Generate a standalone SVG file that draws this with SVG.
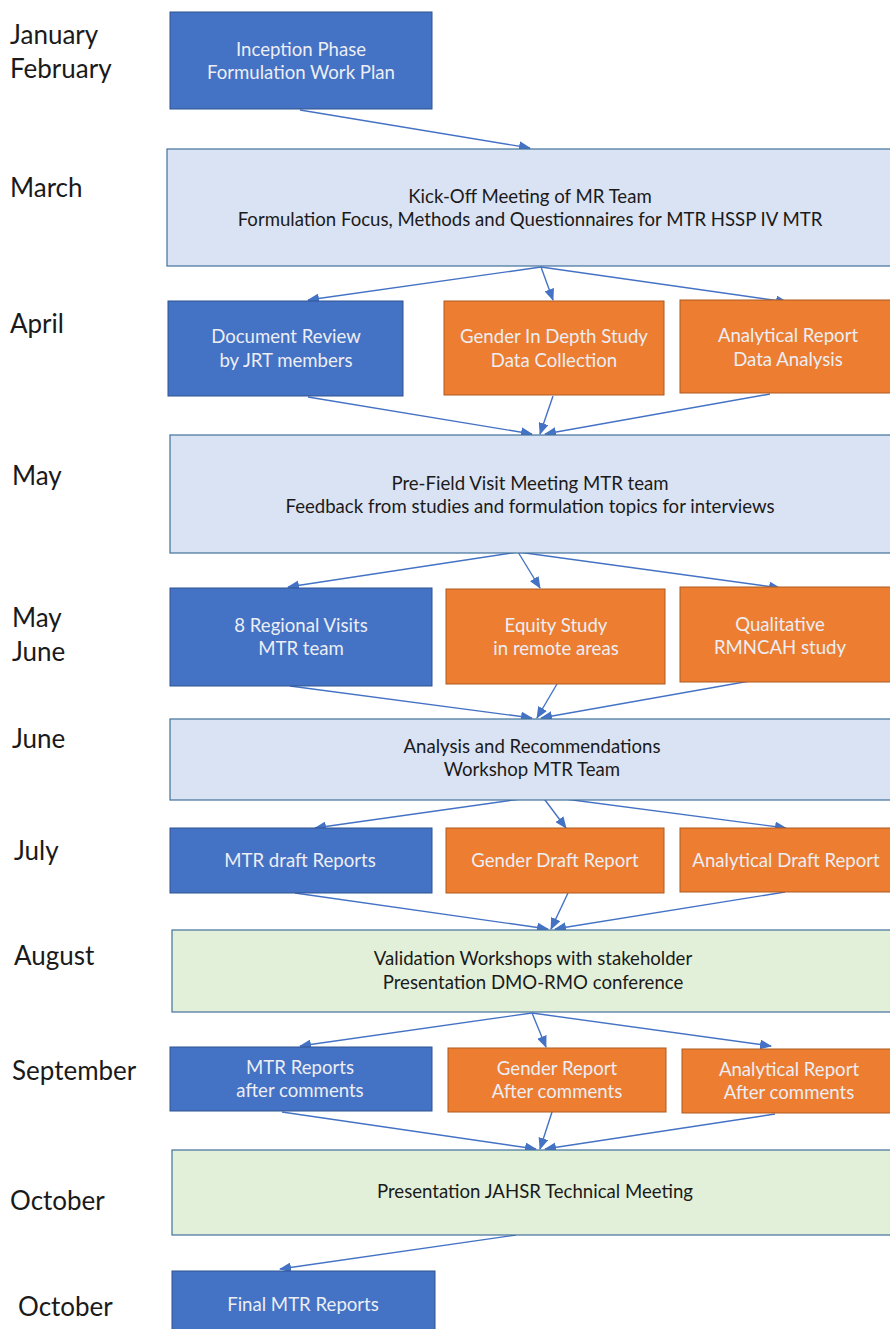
<svg xmlns="http://www.w3.org/2000/svg" width="890" height="1329" viewBox="0 0 890 1329">
<style>
.lbl{font-family:Lato,"Open Sans","Liberation Sans",sans-serif;font-size:26px;fill:#1a1a1a}
.t{font-family:Lato,"Open Sans","Liberation Sans",sans-serif;font-size:18.6px;text-anchor:middle}
.w{fill:#eceef4}
.d{fill:#1a1a1a}
.blue{fill:#4472C4;stroke:#2F528F;stroke-width:1}
.orange{fill:#ED7D31;stroke:#AE5A21;stroke-width:1}
.lb{fill:#DAE3F3;stroke:#41719C;stroke-width:1.2}
.lg{fill:#E2F0D9;stroke:#41719C;stroke-width:1.2}
.c{stroke:#4472C4;stroke-width:1.4;fill:none;marker-end:url(#ah)}
</style>
<defs>
<marker id="ah" markerWidth="12" markerHeight="10" refX="11" refY="5" orient="auto" markerUnits="userSpaceOnUse">
<path d="M0,0 L12,5 L0,10 z" fill="#4472C4"/>
</marker>
</defs>
<rect width="890" height="1329" fill="#ffffff"/>
<g id="labels">
<text class="lbl" x="10" y="44">January</text>
<text class="lbl" x="10" y="78">February</text>
<text class="lbl" x="10" y="197">March</text>
<text class="lbl" x="10" y="333">April</text>
<text class="lbl" x="12" y="485">May</text>
<text class="lbl" x="12" y="627">May</text>
<text class="lbl" x="12" y="661">June</text>
<text class="lbl" x="12" y="748">June</text>
<text class="lbl" x="14" y="860">July</text>
<text class="lbl" x="14" y="965">August</text>
<text class="lbl" x="12" y="1080">September</text>
<text class="lbl" x="10" y="1210">October</text>
<text class="lbl" x="18" y="1316">October</text>
</g>
<g id="connectors">
<line class="c" x1="300" y1="110" x2="530" y2="148"/>
<line class="c" x1="541" y1="267" x2="308" y2="300"/>
<line class="c" x1="541" y1="267" x2="553" y2="300"/>
<line class="c" x1="541" y1="267" x2="787" y2="302"/>
<line class="c" x1="308" y1="397" x2="532" y2="434"/>
<line class="c" x1="553" y1="396" x2="540" y2="434"/>
<line class="c" x1="770" y1="394" x2="545" y2="434"/>
<line class="c" x1="518" y1="552" x2="288" y2="587"/>
<line class="c" x1="518" y1="552" x2="540" y2="588"/>
<line class="c" x1="518" y1="552" x2="780" y2="588"/>
<line class="c" x1="290" y1="686" x2="532" y2="718"/>
<line class="c" x1="557" y1="684" x2="537" y2="718"/>
<line class="c" x1="778" y1="676" x2="541" y2="718"/>
<line class="c" x1="542" y1="796" x2="315" y2="828"/>
<line class="c" x1="542" y1="796" x2="566" y2="828"/>
<line class="c" x1="542" y1="796" x2="786" y2="828"/>
<line class="c" x1="295" y1="893" x2="548" y2="929"/>
<line class="c" x1="568" y1="893" x2="551" y2="929"/>
<line class="c" x1="785" y1="892" x2="555" y2="929"/>
<line class="c" x1="532" y1="1013" x2="300" y2="1046"/>
<line class="c" x1="532" y1="1013" x2="546" y2="1047"/>
<line class="c" x1="532" y1="1013" x2="771" y2="1046"/>
<line class="c" x1="282" y1="1112" x2="536" y2="1149"/>
<line class="c" x1="552" y1="1112" x2="540" y2="1149"/>
<line class="c" x1="775" y1="1114" x2="545" y2="1149"/>
<line class="c" x1="516" y1="1235" x2="280" y2="1269"/>
</g>
<g id="n1"><rect class="blue" x="170" y="12" width="262" height="97"/>
<text class="t w" x="301" y="56">Inception Phase</text><text class="t w" x="301" y="79">Formulation Work Plan</text></g>
<g id="n2"><rect class="lb" x="167" y="149" width="730" height="117"/>
<text class="t d" x="530" y="203">Kick-Off Meeting of MR Team</text><text class="t d" x="530" y="226">Formulation Focus, Methods and Questionnaires for MTR HSSP IV MTR</text></g>
<g id="n3"><rect class="blue" x="168" y="301" width="235" height="95"/>
<text class="t w" x="286" y="343">Document Review</text><text class="t w" x="286" y="367">by JRT members</text></g>
<g id="n4"><rect class="orange" x="444" y="301" width="220" height="94"/>
<text class="t w" x="554" y="343">Gender In Depth Study</text><text class="t w" x="554" y="367">Data Collection</text></g>
<g id="n5"><rect class="orange" x="680" y="300" width="215" height="93"/>
<text class="t w" x="788" y="342">Analytical Report</text><text class="t w" x="788" y="366">Data Analysis</text></g>
<g id="n6"><rect class="lb" x="170" y="435" width="725" height="118"/>
<text class="t d" x="530" y="490">Pre-Field Visit Meeting MTR team</text><text class="t d" x="530" y="513">Feedback from studies and formulation topics for interviews</text></g>
<g id="n7"><rect class="blue" x="170" y="588" width="262" height="98"/>
<text class="t w" x="301" y="632">8 Regional Visits</text><text class="t w" x="301" y="655">MTR team</text></g>
<g id="n8"><rect class="orange" x="446" y="589" width="219" height="95"/>
<text class="t w" x="556" y="632">Equity Study</text><text class="t w" x="556" y="655">in remote areas</text></g>
<g id="n9"><rect class="orange" x="680" y="587" width="215" height="95"/>
<text class="t w" x="780" y="631">Qualitative</text><text class="t w" x="780" y="654">RMNCAH study</text></g>
<g id="n10"><rect class="lb" x="170" y="719" width="725" height="81"/>
<text class="t d" x="532" y="753">Analysis and Recommendations</text><text class="t d" x="532" y="776">Workshop MTR Team</text></g>
<g id="n11"><rect class="blue" x="170" y="828" width="262" height="65"/>
<text class="t w" x="300" y="867">MTR draft Reports</text></g>
<g id="n12"><rect class="orange" x="446" y="828" width="218" height="65"/>
<text class="t w" x="555" y="867">Gender Draft Report</text></g>
<g id="n13"><rect class="orange" x="680" y="828" width="215" height="64"/>
<text class="t w" x="786" y="867">Analytical Draft Report</text></g>
<g id="n14"><rect class="lg" x="172" y="930" width="723" height="82"/>
<text class="t d" x="533" y="965">Validation Workshops with stakeholder</text><text class="t d" x="533" y="989">Presentation DMO-RMO conference</text></g>
<g id="n15"><rect class="blue" x="170" y="1047" width="262" height="64"/>
<text class="t w" x="300" y="1074">MTR Reports</text><text class="t w" x="300" y="1097">after comments</text></g>
<g id="n16"><rect class="orange" x="448" y="1048" width="218" height="64"/>
<text class="t w" x="557" y="1075">Gender Report</text><text class="t w" x="557" y="1098">After comments</text></g>
<g id="n17"><rect class="orange" x="682" y="1049" width="213" height="64"/>
<text class="t w" x="789" y="1076">Analytical Report</text><text class="t w" x="789" y="1099">After comments</text></g>
<g id="n18"><rect class="lg" x="172" y="1150" width="723" height="85"/>
<text class="t d" x="535" y="1198">Presentation JAHSR Technical Meeting</text></g>
<g id="n19"><rect class="blue" x="172" y="1271" width="263" height="62"/>
<text class="t w" x="303" y="1311">Final MTR Reports</text></g>
</svg>
